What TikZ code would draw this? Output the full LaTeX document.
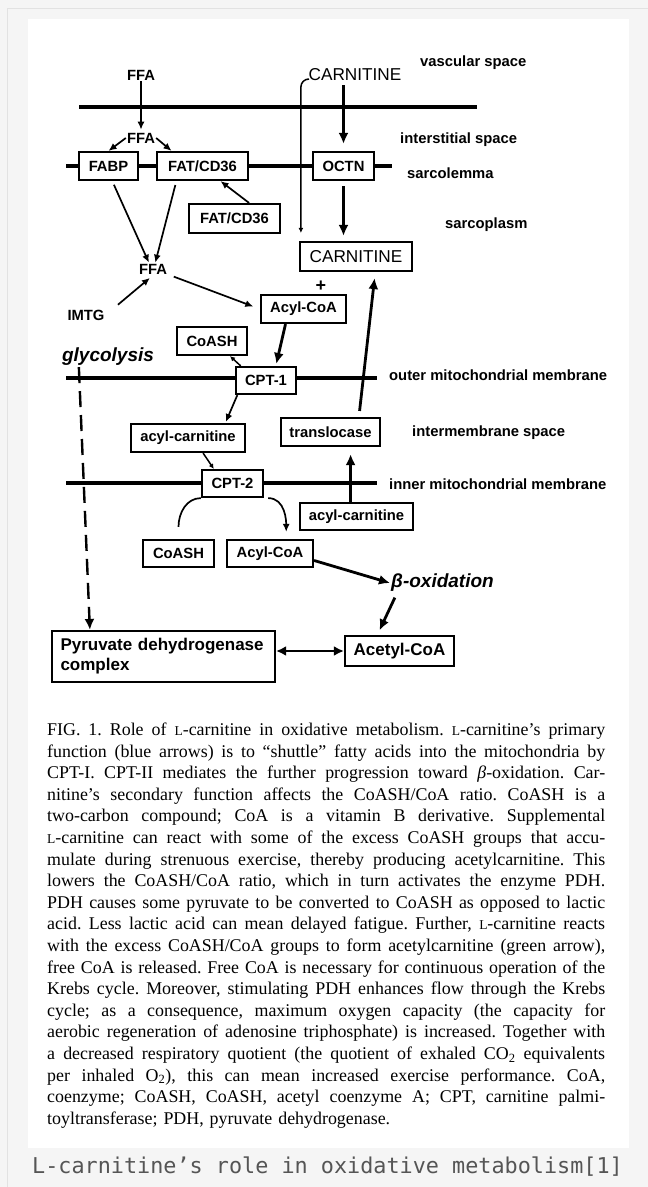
\documentclass[tikz,border=0pt]{standalone}
\usepackage{fontspec}
\setmainfont{Liberation Serif}
\newfontfamily\labfont{Liberation Sans}
\newfontfamily\subtitlefont{DejaVu Sans Mono}
\usetikzlibrary{positioning,arrows.meta}

\definecolor{pagebg}{HTML}{F5F5F5}
\definecolor{framegray}{HTML}{E2E2E2}
\definecolor{subgray}{HTML}{555555}

% small capital L of the caption
\newcommand{\scL}{{\fontsize{13.5}{14}\selectfont L}}
% one justified line of the caption
\newcommand{\capline}[1]{\hbox to 558pt{\spaceskip=.25em plus .6em minus .06em\relax #1}\par}

\begin{document}
\begin{tikzpicture}[x=1pt,y=-1pt,
  lbl/.style={font=\labfont\bfseries\fontsize{14.8}{16}\selectfont, inner sep=1pt},
  bigl/.style={font=\labfont\fontsize{17.2}{19}\selectfont, inner sep=1pt},
  itl/.style={font=\labfont\bfseries\itshape\fontsize{19}{21}\selectfont, inner sep=1pt},
  enzbox/.style={lbl, draw, line width=2.2pt, fill=white, minimum height=28pt, inner sep=0pt},
  membrane/.style={line width=3.6pt},
  thin arrow/.style={line width=1.7pt, -{Latex[length=8pt,width=7pt]}},
  tiny arrow/.style={line width=1.5pt, -{Latex[length=5pt,width=5pt]}},
  thick arrow/.style={line width=2.8pt, -{Latex[length=11pt,width=10pt]}},
  twoway/.style={line width=2.8pt, {Latex[length=10pt,width=10pt]}-{Latex[length=10pt,width=10pt]}},
  dashline/.style={line width=2.4pt, dash pattern=on 16pt off 8pt, -{Latex[length=11pt,width=10pt]}},
]
\useasboundingbox (0,0) rectangle (648,1187);
% page and white panel
\fill[pagebg] (0,0) rectangle (648,1187);
\draw[framegray, line width=1pt] (648,8) -- (7,8) -- (7,1187);
\fill[white] (28,19) rectangle (629,1148);

% membranes
\draw[line width=4pt] (79,107) -- (477,107);
\draw[membrane] (66,166) -- (392,166);
\draw[membrane] (66,378) -- (377,378);
\draw[membrane] (66,483) -- (377,483);

% labels and boxes
\node[lbl] (ffa0) at (141,75) {FFA};
\node[bigl] (carn0) at (355,75) {CARNITINE};
\node[lbl,anchor=west] (vasc) at (419,63) {vascular space};
\node[lbl] (ffa1) at (141,138) {FFA};
\node[lbl,anchor=west] (inter) at (399,140) {interstitial space};
\node[lbl,anchor=west] (sarcl) at (406,173) {sarcolemma};
\node[enzbox,minimum width=59pt] (fabp) at (108.5,166) {FABP};
\node[enzbox,minimum width=91pt] (fat) at (202.5,166) {FAT/CD36};
\node[enzbox,minimum width=61pt] (octn) at (343.5,166) {OCTN};
\node[enzbox,minimum width=91pt,minimum height=29pt] (fat2) at (234.5,218.5) {FAT/CD36};
\node[lbl,anchor=west] (sarcp) at (444,225) {sarcoplasm};
\node[enzbox,bigl,inner sep=0pt,minimum width=112pt,minimum height=29pt] (carn) at (356,256.5) {CARNITINE};
\node[lbl] (ffa2) at (153,269) {FFA};
\node[lbl,font=\labfont\bfseries\fontsize{18}{20}\selectfont] (plus) at (321,286) {+};
\node[enzbox,minimum width=85pt] (acyl) at (303.5,309) {Acyl-CoA};
\node[lbl] (imtg) at (86,315) {IMTG};
\node[enzbox,minimum width=70pt] (coash) at (212,341) {CoASH};
\node[itl] (glyc) at (108,357) {glycolysis};
\node[enzbox,minimum width=60pt,minimum height=27pt] (cpt1) at (266,380.5) {CPT-1};
\node[lbl,anchor=west] (outer) at (388,375) {outer mitochondrial membrane};
\node[enzbox,minimum width=114pt] (acar1) at (188,438) {acyl-carnitine};
\node[enzbox,minimum width=99pt] (transl) at (330.5,432) {translocase};
\node[lbl,anchor=west] (interm) at (411,433) {intermembrane space};
\node[enzbox,minimum width=61pt,minimum height=27pt] (cpt2) at (232.5,483.5) {CPT-2};
\node[lbl,anchor=west] (inner) at (388,484) {inner mitochondrial membrane};
\node[enzbox,minimum width=113pt,minimum height=27pt] (acar2) at (356.5,516.5) {acyl-carnitine};
\node[enzbox,minimum width=71pt,minimum height=27pt] (coash2) at (178.5,553.5) {CoASH};
\node[enzbox,minimum width=86pt,minimum height=27pt] (acyl2) at (270,553.5) {Acyl-CoA};
\node[itl,anchor=west] (boxid) at (390,583) {β-oxidation};
\node[enzbox,font=\labfont\bfseries\fontsize{17}{20}\selectfont,text width=206pt,align=left,
      inner xsep=8.5pt,minimum height=51pt] (pdh) at (163.5,656.5) {Pyruvate dehydrogenase\\complex};
\node[enzbox,font=\labfont\bfseries\fontsize{17}{20}\selectfont,minimum width=109pt,minimum height=30pt] (acet) at (399.5,651) {Acetyl-CoA};

% arrows
\draw[thin arrow, shorten >=2pt] (ffa0) -- (ffa1);
\draw[thin arrow] (ffa1.west) -- (fabp.north);
\draw[thin arrow] (ffa1.east) -- (fat.154);
\draw[thick arrow, shorten <=3pt, shorten >=7pt] (carn0.south -| octn.north) -- (octn.north);
\draw[thick arrow, shorten <=5pt, shorten >=5pt] (octn.south) -- (octn.south |- carn.north);
\draw[tiny arrow, rounded corners=8pt] ([yshift=-4pt]carn0.west) -| ([xshift=2pt,yshift=8pt]carn.north west);
\draw[thin arrow, shorten <=4pt] (fabp.-76) -- (ffa2.123);
\draw[thin arrow, shorten <=4pt] (fat.210) -- (ffa2.70);
\draw[thin arrow] (fat2.47) -- (fat.-40);
\draw[thin arrow, shorten <=6pt, shorten >=7pt] (ffa2.-20) -- (acyl.west);
\draw[thin arrow, shorten <=16pt, shorten >=4pt] (imtg.east) -- (ffa2.south);
\draw[thick arrow, shorten >=2pt] (acyl.220) -- (cpt1.56);
\draw[tiny arrow] (cpt1.150) -- (coash.-40);
\draw[thick arrow, shorten <=6pt, shorten >=6pt] (transl.28) -- (carn.-39);
\draw[thin arrow, shorten >=1pt] (cpt1.207) -- (acar1.22);
\draw[tiny arrow] (acar1.-45) -- (cpt2.142);
\draw[thick arrow, shorten >=7pt] (acar2.112) -- (acar2.112 |- transl.south);
\draw[line width=1.7pt] ([yshift=12pt]coash2.north) to[out=90,in=180] (cpt2.south west);
\draw[thin arrow, shorten >=7pt] ([xshift=4pt]cpt2.south east) to[out=0,in=90] (acyl2.42);
\draw[thick arrow] (acyl2.-9) -- (boxid.west);
\draw[thick arrow, shorten <=5pt, shorten >=5pt] ([xshift=7pt]boxid.south west) -- (acet.144);
\draw[twoway] (pdh.east |- acet.west) -- (acet.west);
\draw[dashline] ([xshift=18pt]glyc.south west) -- ([xshift=39pt]pdh.north west);

% caption
\node[anchor=base west, inner sep=0pt, text width=558pt, font=\fontsize{17.9}{21.6}\selectfont\frenchspacing] (cap) at (47,735.5) {%
\capline{FIG. 1. Role of \scL-carnitine in oxidative metabolism. \scL-carnitine’s primary}%
\capline{function (blue arrows) is to “shuttle” fatty acids into the mitochondria by}%
\capline{CPT-I. CPT-II mediates the further progression toward \textit{β}-oxidation. Car-}%
\capline{nitine’s secondary function affects the CoASH/CoA ratio. CoASH is a}%
\capline{two-carbon compound; CoA is a vitamin B derivative. Supplemental}%
\capline{\scL-carnitine can react with some of the excess CoASH groups that accu-}%
\capline{mulate during strenuous exercise, thereby producing acetylcarnitine. This}%
\capline{lowers the CoASH/CoA ratio, which in turn activates the enzyme PDH.}%
\capline{PDH causes some pyruvate to be converted to CoASH as opposed to lactic}%
\capline{acid. Less lactic acid can mean delayed fatigue. Further, \scL-carnitine reacts}%
\capline{with the excess CoASH/CoA groups to form acetylcarnitine (green arrow),}%
\capline{free CoA is released. Free CoA is necessary for continuous operation of the}%
\capline{Krebs cycle. Moreover, stimulating PDH enhances flow through the Krebs}%
\capline{cycle; as a consequence, maximum oxygen capacity (the capacity for}%
\capline{aerobic regeneration of adenosine triphosphate) is increased. Together with}%
\capline{a decreased respiratory quotient (the quotient of exhaled CO\textsubscript{2} equivalents}%
\capline{per inhaled O\textsubscript{2}), this can mean increased exercise performance. CoA,}%
\capline{coenzyme; CoASH, CoASH, acetyl coenzyme A; CPT, carnitine palmi-}%
toyltransferase; PDH, pyruvate dehydrogenase.};

% subtitle under the panel
\node[font=\subtitlefont\fontsize{21.8}{24}\selectfont, text=subgray] (subt) at (327.5,1167) {L-carnitine’s role in oxidative metabolism[1]};
\end{tikzpicture}
\end{document}
